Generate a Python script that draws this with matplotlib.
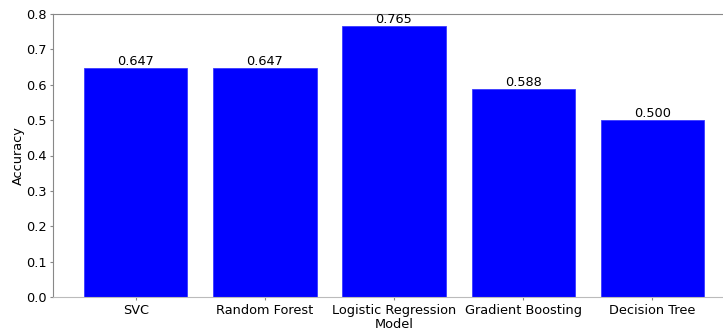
import matplotlib
matplotlib.use("Agg")
import matplotlib.pyplot as plt

# model accuracies
models = ["SVC", "Random Forest", "Logistic Regression", "Gradient Boosting", "Decision Tree"]
accuracy = [0.647, 0.647, 0.765, 0.588, 0.500]

fig = plt.figure(figsize=(7.23, 3.31), dpi=100)
# axes runs past the right edge, the original was cropped there
ax = fig.add_axes([53/723, 1-297/331, 682/723, 283/331])

bars = ax.bar(models, accuracy, color="blue", edgecolor="#3a3aff", linewidth=0.6)
for b, v in zip(bars, accuracy):
    ax.text(b.get_x() + b.get_width()/2, v, "%.3f" % v, ha="center", va="bottom", fontsize=9.3)

ax.set_ylim(0, 0.8)
ax.set_xlabel("Model", fontsize=9.3, labelpad=1)
ax.set_ylabel("Accuracy", fontsize=9.3, labelpad=0.5)
ax.tick_params(labelsize=9.3, length=2.5, pad=2.2)
for s in ax.spines.values():
    s.set_color("#888888")
ax.spines["bottom"].set_color("#bbbbbb")
ax.tick_params(colors="#888888", labelcolor="black")

fig.savefig("out.png", dpi=100)
